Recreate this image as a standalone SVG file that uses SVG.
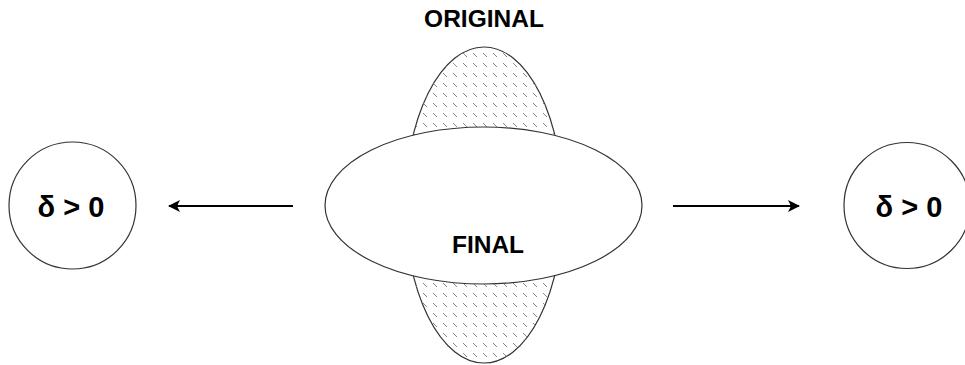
<svg xmlns="http://www.w3.org/2000/svg" width="965" height="365" viewBox="0 0 965 365">
<style>
.lbl{font-family:"Liberation Sans",Arial,sans-serif;font-weight:bold;fill:#000;text-anchor:middle}
.shape{stroke:#333;stroke-width:1.2}
.conn{stroke:#000;stroke-width:2;fill:none}
</style>
<defs>
<pattern id="hatch" patternUnits="userSpaceOnUse" width="10" height="10">
<line x1="3" y1="3" x2="7" y2="7" stroke="#888" stroke-width="1"/>
</pattern>
<marker id="arr" viewBox="0 0 12 12" refX="11" refY="6" markerWidth="12" markerHeight="12" markerUnits="userSpaceOnUse" orient="auto">
<path d="M0,0 L12,6 L0,12 L3,6 Z" fill="#000"/>
</marker>
</defs>
<g id="original">
<ellipse cx="484" cy="205" rx="79" ry="158" fill="#fff" class="shape"/>
<ellipse cx="484" cy="205" rx="79" ry="158" fill="url(#hatch)" stroke="none"/>
<text x="484" y="27" class="lbl" font-size="24.5">ORIGINAL</text>
</g>
<g id="final">
<ellipse cx="483.5" cy="205.5" rx="158.5" ry="78.5" fill="#fff" class="shape"/>
<text x="488" y="253" class="lbl" font-size="24.5">FINAL</text>
</g>
<g id="left-node">
<circle cx="72.5" cy="205.5" r="63.5" fill="#fff" class="shape"/>
<text x="71" y="217" class="lbl" font-size="29">δ &gt; 0</text>
</g>
<g id="right-node">
<circle cx="907" cy="205.5" r="63" fill="#fff" class="shape"/>
<text x="909" y="217" class="lbl" font-size="29">δ &gt; 0</text>
</g>
<g id="connectors">
<line x1="293" y1="206" x2="169" y2="206" class="conn" marker-end="url(#arr)"/>
<line x1="673" y1="206" x2="799" y2="206" class="conn" marker-end="url(#arr)"/>
</g>
</svg>
